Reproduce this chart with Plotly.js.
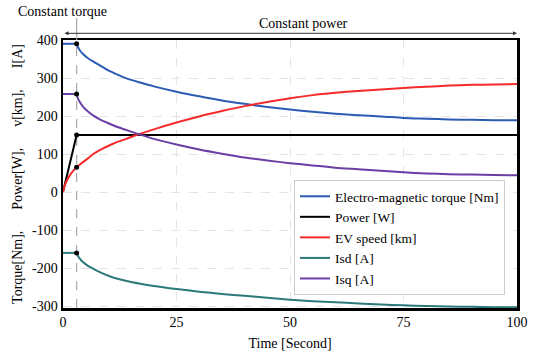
<!DOCTYPE html>
<html>
<head>
<meta charset="utf-8">
<script src="https://cdn.plot.ly/plotly-3.0.1.min.js"></script>
<style>html,body{margin:0;padding:0;background:#fff;}#chart{width:536px;height:356px;}</style>
</head>
<body>
<div id="chart"></div>
<script>
// Constant-torque region (0..3 s)
var timeConst = [0, 3];
var torqueConst = [390, 390];
var isdConst = [-160, -160];
var isqConst = [258, 258];

// Constant-power region (3..100 s)
var timeDecay = [3, 3.3, 3.7, 4.4, 5.5, 6.7, 8, 10, 12, 14, 17, 20, 25, 30, 35, 40, 45, 50, 55, 60, 65, 70, 75, 80, 85, 90, 95, 100];
var torqueDecay = [390, 381, 373, 363, 352, 343, 334, 320, 309, 299, 288, 278, 264, 252, 241, 232, 224, 217, 211, 206, 202, 199, 195, 193, 191, 190, 189, 189];
var isdDecay = [-160, -168, -175, -184, -194, -202, -210, -220, -228, -234, -241, -247, -255, -262, -268, -273, -278, -283, -287, -290, -293, -296, -298, -300, -301, -302, -303, -303];
var isqDecay = [258, 246, 237, 225, 212, 201, 192, 181, 171, 163, 151, 140, 125, 112, 101, 91, 83, 76, 70, 64, 60, 56, 52, 49, 47, 46, 45, 44];

// Speed and power over the whole run
var timeSpeed = [0, 0.3, 0.8, 1.5, 2.2, 3, 4, 5.2, 6.7, 8.1, 11, 13.9, 16.2, 20, 25, 30, 35, 40, 45, 50, 55, 60, 65, 70, 75, 80, 85, 90, 95, 100];
var speedKm = [0, 14, 29, 44, 55, 65, 75, 86, 100, 110, 127, 140, 150, 165, 183, 199, 213, 226, 237, 247, 255, 261, 266, 270, 274, 277, 280, 282, 283, 284];
var timePower = [0, 3, 100];
var powerW = [0, 150, 150];

// Transition markers at t = 3 s
var switchTime = [3, 3, 3, 3, 3];
var switchVals = [390, 258, 150, 65, -160];

var seriesNames = ['Electro-magnetic torque [Nm]', 'Power [W]', 'EV speed [km]', 'Isd [A]', 'Isq [A]'];
var xTicks = [0, 25, 50, 75, 100];
var yTicks = [-300, -200, -100, 0, 100, 200, 300, 400];
var yTickText = ['-300', '-200', '-100', '0', '100', '200', '300', '400'];

var serif = '"Liberation Serif", "Times New Roman", serif';
var colors = ['#2c5bb4', '#000000', '#f52a2a', '#2b7a78', '#6a3fa5'];

function ln(c) { return {color: c, width: 2}; }
function sp(c) { return {color: c, width: 2, shape: 'spline', smoothing: 0.8}; }

var traces = [
  {x: timeDecay, y: torqueDecay, name: seriesNames[0], legendgroup: 'g0', mode: 'lines', line: sp(colors[0])},
  {x: timePower, y: powerW, name: seriesNames[1], legendgroup: 'g1', mode: 'lines', line: ln(colors[1])},
  {x: timeSpeed, y: speedKm, name: seriesNames[2], legendgroup: 'g2', mode: 'lines', line: sp(colors[2])},
  {x: timeDecay, y: isdDecay, name: seriesNames[3], legendgroup: 'g3', mode: 'lines', line: sp(colors[3])},
  {x: timeDecay, y: isqDecay, name: seriesNames[4], legendgroup: 'g4', mode: 'lines', line: sp(colors[4])},
  {x: timeConst, y: torqueConst, legendgroup: 'g0', showlegend: false, mode: 'lines', line: ln(colors[0])},
  {x: timeConst, y: isdConst, legendgroup: 'g3', showlegend: false, mode: 'lines', line: ln(colors[3])},
  {x: timeConst, y: isqConst, legendgroup: 'g4', showlegend: false, mode: 'lines', line: ln(colors[4])},
  {x: switchTime, y: switchVals, mode: 'markers', showlegend: false, marker: {color: '#000', size: 5}, hoverinfo: 'skip'}
];

var nb = '\u00a0\u00a0\u00a0\u00a0\u00a0\u00a0';
var layout = {
  width: 536, height: 356,
  margin: {l: 63, r: 19, t: 40, b: 48},
  paper_bgcolor: '#fff', plot_bgcolor: '#fff',
  font: {family: serif, size: 14, color: '#000'},
  showlegend: true,
  legend: {
    x: 0.9736, y: 0.0485, xanchor: 'right', yanchor: 'bottom',
    bgcolor: '#fff', bordercolor: '#cccccc', borderwidth: 1,
    font: {family: serif, size: 13.5, color: '#000'},
    tracegroupgap: 0, traceorder: 'normal'
  },
  xaxis: {
    range: [0, 100], tickvals: xTicks, ticks: '',
    showgrid: true, gridcolor: '#e4e4e4', griddash: 'dash', gridwidth: 1,
    zeroline: false, showline: true, linecolor: '#000', linewidth: 2.5, mirror: true,
    title: {text: 'Time [Second]', font: {family: serif, size: 14}, standoff: 9},
    tickfont: {family: serif, size: 14}
  },
  yaxis: {
    range: [-305, 400], tickvals: yTicks, ticktext: yTickText, ticks: '',
    showgrid: true, gridcolor: '#e4e4e4', griddash: 'dash', gridwidth: 1,
    zeroline: false, showline: true, linecolor: '#000', linewidth: 2.5, mirror: true,
    title: {text: 'Torque[Nm],' + nb + 'Power[W],' + nb + 'v[km],' + nb + 'I[A]', font: {family: serif, size: 14}, standoff: 6},
    tickfont: {family: serif, size: 14}
  },
  shapes: [
    {type: 'line', xref: 'x', yref: 'paper', x0: 3, x1: 3, y0: 0, y1: 1, line: {color: '#aaaaaa', width: 1.2, dash: 'dash'}, layer: 'below'},
    {type: 'line', xref: 'x', yref: 'paper', x0: 3, x1: 3, y0: 1, y1: 1.082, line: {color: '#aaaaaa', width: 1.2}}
  ],
  annotations: [
    {xref: 'paper', yref: 'paper', x: -0.002, y: 1.1045, text: 'Constant torque', showarrow: false, xanchor: 'center', yanchor: 'middle', font: {family: serif, size: 14}},
    {xref: 'paper', yref: 'paper', x: 0.529, y: 1.063, text: 'Constant power', showarrow: false, xanchor: 'center', yanchor: 'middle', font: {family: serif, size: 14}},
    {xref: 'x', yref: 'paper', x: 100, y: 1.025, axref: 'x', ayref: 'pixel', ax: 0, ay: 0, text: '', showarrow: true, arrowhead: 2, startarrowhead: 2, arrowside: 'end+start', arrowsize: 0.8, arrowwidth: 1, arrowcolor: '#333', standoff: 0, startstandoff: 0}
  ]
};

Plotly.newPlot('chart', traces, layout, {displayModeBar: false, staticPlot: true});
</script>
</body>
</html>
